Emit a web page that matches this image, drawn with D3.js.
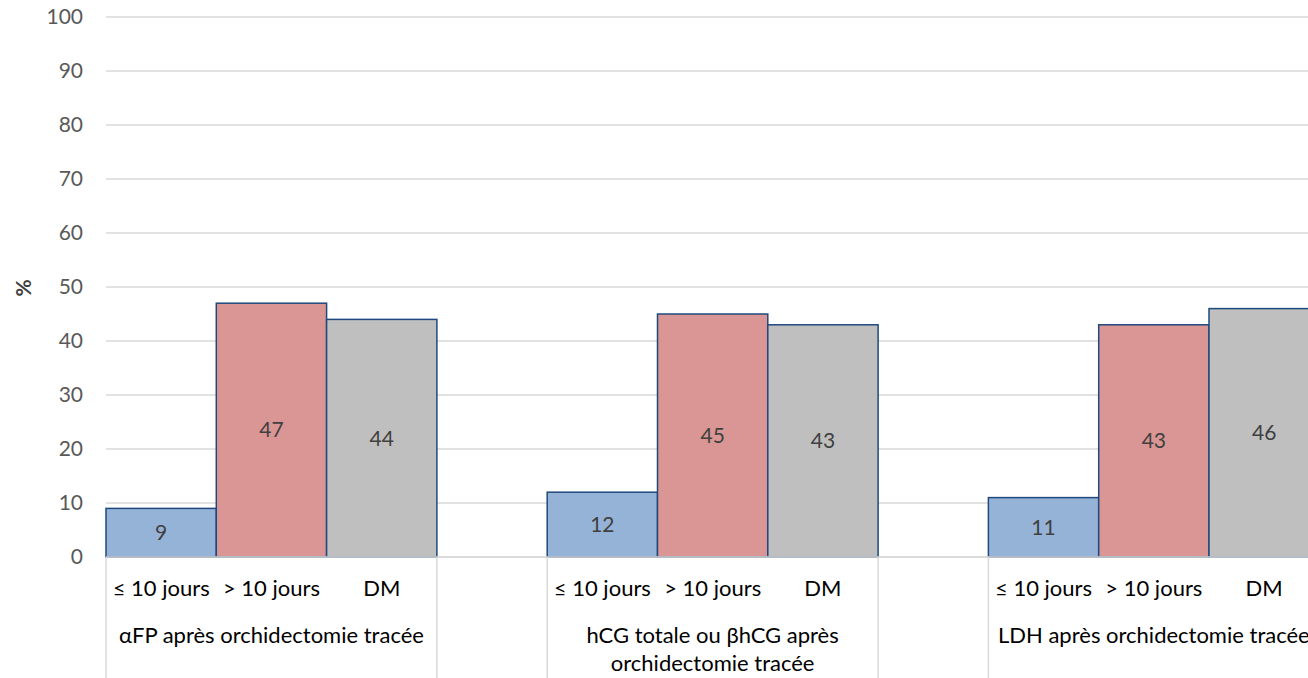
<!DOCTYPE html>
<html>
<head>
<meta charset="utf-8">
<script src="https://cdn.jsdelivr.net/npm/d3@7"></script>
<style>
  body { margin: 0; background: #fff; }
  svg { display: block; font-family: Lato, "Open Sans", sans-serif; }
</style>
</head>
<body>
<svg id="svg0" width="1308" height="678"></svg>
<script>

// data
var groups = ["αFP après orchidectomie tracée", "hCG totale ou βhCG après orchidectomie tracée", "LDH après orchidectomie tracée"];
var series = ["≤ 10 jours", "> 10 jours", "DM"];
var le10 = [9, 12, 11];
var gt10 = [47, 45, 43];
var dm = [44, 43, 46];
var yTicks = [0, 10, 20, 30, 40, 50, 60, 70, 80, 90, 100];

var colors = ["#95b3d7", "#d99694", "#bfbfbf"];
var values = [le10, gt10, dm];

var width = 1308;
var height = 678;
var left = 106, top0 = 17, base = 557;
var fs = 21;
var catFs = 22;

// one slot per bar, plus an empty slot between groups
var slots = [];
groups.forEach(function(g, gi){
    series.forEach(function(s, si){
        slots.push({key: gi + '-' + si, g: gi, s: si, name: s, value: values[si][gi]});
    });
    if (gi < groups.length - 1) slots.push({key: gi + '-gap', g: gi, s: -1});
});

var x = d3.scaleBand()
    .domain(slots.map(function(d){ return d.key; }))
    .range([left, left + 110.3 * slots.length])
    .padding(0);

var y = d3.scaleLinear()
    .domain([0, 100])
    .range([base, top0]);

var svg = d3.select('#svg0');

// gridlines
svg.append('g')
    .selectAll('line')
    .data(yTicks)
    .enter()
    .append('line')
    .attr('x1', left)
    .attr('x2', width)
    .attr('y1', function(d){ return y(d); })
    .attr('y2', function(d){ return y(d); })
    .attr('stroke', '#d9d9d9')
    .attr('stroke-width', 1.5);

// y axis labels
var yAxis = svg.append('g')
    .attr('transform', 'translate(' + (left - 17) + ',0)')
    .call(d3.axisLeft(y).tickValues(yTicks).tickSize(0).tickPadding(6));
yAxis.select('.domain').remove();
yAxis.selectAll('text')
    .attr('fill', '#595959')
    .attr('font-size', fs)
    .attr('font-family', 'Lato, "Open Sans", sans-serif');

svg.append('text')
    .attr('transform', 'translate(31,' + (y(50) + 1) + ') rotate(-90)')
    .attr('text-anchor', 'middle')
    .attr('font-size', fs)
    .attr('font-weight', 'bold')
    .attr('fill', '#404040')
    .text('%');

var bars = slots.filter(function(d){ return d.s >= 0; });

svg.append('g')
    .selectAll('rect')
    .data(bars)
    .enter()
    .append('rect')
    .attr('x', function(d){ return x(d.key); })
    .attr('y', function(d){ return y(d.value); })
    .attr('width', x.bandwidth())
    .attr('height', function(d){ return y(0) - y(d.value); })
    .attr('fill', function(d){ return colors[d.s]; })
    .attr('stroke', '#1f497d')
    .attr('stroke-width', 1.5);

// value labels in the middle of the bars
svg.append('g')
    .selectAll('text')
    .data(bars)
    .enter()
    .append('text')
    .attr('x', function(d){ return x(d.key) + x.bandwidth() / 2; })
    .attr('y', function(d){ return (y(d.value) + y(0)) / 2; })
    .attr('dy', '0.35em')
    .attr('text-anchor', 'middle')
    .attr('font-size', fs)
    .attr('fill', '#404040')
    .text(function(d){ return d.value; });

// baseline
svg.append('line')
    .attr('x1', left).attr('x2', width)
    .attr('y1', base).attr('y2', base)
    .attr('stroke', '#d9d9d9')
    .attr('stroke-width', 1.5);

// category axis separators
var seps = [];
groups.forEach(function(g, gi){
    seps.push(x(gi + '-0'));
    seps.push(x(gi + '-2') + x.bandwidth());
});
svg.append('g')
    .selectAll('line')
    .data(seps)
    .enter()
    .append('line')
    .attr('x1', function(d){ return d; })
    .attr('x2', function(d){ return d; })
    .attr('y1', base)
    .attr('y2', height)
    .attr('stroke', '#d9d9d9')
    .attr('stroke-width', 1.5);

// inner labels
svg.append('g')
    .selectAll('text')
    .data(bars)
    .enter()
    .append('text')
    .attr('x', function(d){ return x(d.key) + x.bandwidth() / 2; })
    .attr('y', 596)
    .attr('text-anchor', 'middle')
    .attr('font-size', catFs)
    .attr('fill', '#000')
    .text(function(d){ return d.name; });

// outer labels, wrapped to group width
var outer = svg.append('g')
    .selectAll('text')
    .data(groups)
    .enter()
    .append('text')
    .attr('x', function(d, i){ return x(i + '-0') + x.bandwidth() * 1.5; })
    .attr('y', 643)
    .attr('text-anchor', 'middle')
    .attr('font-size', catFs)
    .attr('fill', '#000');

outer.each(function(d){
    var t = d3.select(this);
    var maxW = x.bandwidth() * 3 - 6;
    var words = d.split(' ');
    var lines = [], line = [];
    var probe = t.append('tspan');
    words.forEach(function(w){
        line.push(w);
        probe.text(line.join(' '));
        if (probe.node().getComputedTextLength() > maxW && line.length > 1) {
            line.pop();
            lines.push(line.join(' '));
            line = [w];
        }
    });
    lines.push(line.join(' '));
    probe.remove();
    lines.forEach(function(l, i){
        t.append('tspan')
            .attr('x', t.attr('x'))
            .attr('dy', i === 0 ? 0 : 28)
            .text(l);
    });
});

</script>
</body>
</html>
